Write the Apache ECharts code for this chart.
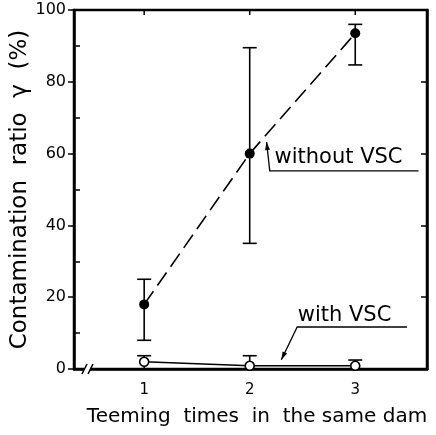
<!DOCTYPE html>
<html>
<head>
<meta charset="utf-8">
<script src="https://cdn.jsdelivr.net/npm/echarts@6/dist/echarts.min.js"></script>
<style>
  html, body { margin: 0; padding: 0; background: #fff; }
  #chart { width: 436px; height: 435px; }
</style>
</head>
<body>
<div id="chart"></div>
<script>
// teeming times (x) and contamination ratio (%)
var teemingTimes = [1, 2, 3];
var withoutVsc = [18, 60, 93.5];
var withoutVscHigh = [25, 89.5, 96];
var withoutVscLow = [8, 35, 84.7];
var withVsc = [2, 0.9, 0.9];
var withVscHigh = [3.7, 3.7, 2.5];
var withVscLow = [0, 0, 0];
var xTicks = [1, 2, 3];
var yMinorTicks = [10, 30, 50, 70, 90];

var font = 'DejaVu Sans';
var ink = '#000';

function pairs(ys) {
  return teemingTimes.map(function (t, i) { return [t, ys[i]]; });
}

// error bars drawn through the axes
function errorBars(high, low) {
  return {
    type: 'custom',
    z: 1,
    data: teemingTimes.map(function (t, i) { return [t, low[i], high[i]]; }),
    encode: { x: 0, y: [1, 2] },
    renderItem: function (params, api) {
      var lo = api.coord([api.value(0), api.value(1)]);
      var hi = api.coord([api.value(0), api.value(2)]);
      var w = 7;
      var st = { stroke: ink, lineWidth: 1.6 };
      return {
        type: 'group',
        children: [
          { type: 'line', shape: { x1: hi[0], y1: hi[1], x2: lo[0], y2: lo[1] }, style: st },
          { type: 'line', shape: { x1: hi[0] - w, y1: hi[1], x2: hi[0] + w, y2: hi[1] }, style: st },
          { type: 'line', shape: { x1: lo[0] - w, y1: lo[1], x2: lo[0] + w, y2: lo[1] }, style: st }
        ]
      };
    }
  };
}

// leader lines of the two labels, in data units
var leaderWithout = [[2.16, 63.2], [2.19, 55.2], [3.6, 55.2]];
var leaderWith = [[2.3, 2.6], [2.45, 11.7], [3.49, 11.7]];

var chart = echarts.init(document.getElementById('chart'));

var plainTick = { color: ink, width: 1.5 };

chart.setOption({
  animation: false,
  backgroundColor: '#fff',
  grid: {
    left: 74, top: 10, right: 9, bottom: 66,
    containLabel: false, outerBoundsMode: 'none',
    show: true, borderColor: ink, borderWidth: 2.5, backgroundColor: 'transparent'
  },
  xAxis: {
    type: 'value',
    position: 'bottom',
    min: 0.335,
    max: 3.68,
    name: 'Teeming  times  in  the same dam',
    nameLocation: 'middle',
    nameGap: 38,
    nameMoveOverlap: false,
    nameTextStyle: { fontFamily: font, fontSize: 20, color: ink, padding: [0, 0, 0, 13] },
    axisLine: { show: true, lineStyle: { color: ink, width: 2.5 } },
    axisTick: { show: false },
    axisLabel: { customValues: xTicks, fontFamily: font, fontSize: 15, color: ink, margin: 14 },
    splitLine: { show: false }
  },
  yAxis: [{
    type: 'value',
    position: 'left',
    min: 0,
    max: 100,
    interval: 20,
    name: 'Contamination  ratio  γ  (%)',
    nameLocation: 'middle',
    nameGap: 42,
    nameMoveOverlap: false,
    nameTextStyle: { fontFamily: font, fontSize: 23, color: ink },
    axisLine: { show: true, lineStyle: { color: ink, width: 2.5 } },
    axisTick: { show: true, length: 6, lineStyle: plainTick },
    axisLabel: { fontFamily: font, fontSize: 16, color: ink, margin: 8 },
    splitLine: { show: false }
  }, {
    type: 'value',
    position: 'left',
    min: 0,
    max: 100,
    axisLine: { show: false },
    axisTick: { show: true, inside: true, customValues: yMinorTicks, length: 6, lineStyle: plainTick },
    axisLabel: { show: false },
    splitLine: { show: false }
  }, {
    type: 'value',
    position: 'right',
    min: 0,
    max: 100,
    interval: 20,
    axisLine: { show: true, lineStyle: { color: ink, width: 2.5 } },
    axisTick: { show: true, inside: true, length: 6, lineStyle: plainTick },
    axisLabel: { show: false },
    splitLine: { show: false }
  }],
  series: [
    errorBars(withoutVscHigh, withoutVscLow),
    errorBars(withVscHigh, withVscLow),
    {
      // short inward ticks on the top frame at 1, 2, 3
      type: 'custom',
      z: 2,
      silent: true,
      data: xTicks.map(function (t) { return [t, 100]; }),
      renderItem: function (params, api) {
        var p = api.coord([api.value(0), api.value(1)]);
        return { type: 'line', shape: { x1: p[0], y1: p[1], x2: p[0], y2: p[1] + 5 }, style: { stroke: ink, lineWidth: 1.5 } };
      }
    },
    {
      name: 'without VSC',
      type: 'line',
      z: 3,
      data: pairs(withoutVsc),
      symbol: 'circle',
      symbolSize: 10,
      itemStyle: { color: ink },
      lineStyle: { color: ink, width: 1.6, type: [16, 7] }
    },
    {
      name: 'with VSC',
      type: 'line',
      z: 3,
      data: pairs(withVsc),
      symbol: 'circle',
      symbolSize: 9,
      itemStyle: { color: '#fff', borderColor: ink, borderWidth: 1.6 },
      lineStyle: { color: ink, width: 1.6 }
    },
    {
      type: 'lines',
      coordinateSystem: 'cartesian2d',
      polyline: true,
      z: 4,
      lineStyle: { color: ink, width: 1.3, opacity: 1 },
      data: [{ coords: leaderWithout }, { coords: leaderWith }]
    }
  ]
});

function px(p) { return chart.convertToPixel({ gridIndex: 0 }, p); }

// small filled arrowhead at the start of a leader
function arrowHead(leader) {
  var tip = px(leader[0]);
  var from = px(leader[1]);
  var dx = tip[0] - from[0], dy = tip[1] - from[1];
  var len = Math.sqrt(dx * dx + dy * dy);
  var ux = dx / len, uy = dy / len;
  var L = 8, W = 2.5;
  var bx = tip[0] - ux * L, by = tip[1] - uy * L;
  return {
    type: 'polygon', z: 11,
    shape: { points: [tip, [bx - uy * W, by + ux * W], [bx + uy * W, by - ux * W]] },
    style: { fill: ink }
  };
}

var pWithout = px([2.235, 59]);
var pWith = px([2.455, 14.8]);
var origin = px([0.335, 0]);

chart.setOption({
  graphic: [
    { type: 'text', x: pWithout[0], y: pWithout[1], z: 10,
      style: { text: 'without VSC', font: '21px "DejaVu Sans"', fill: ink, verticalAlign: 'middle' } },
    { type: 'text', x: pWith[0], y: pWith[1], z: 10,
      style: { text: 'with VSC', font: '21px "DejaVu Sans"', fill: ink, verticalAlign: 'middle' } },
    arrowHead(leaderWithout),
    arrowHead(leaderWith),
    // axis break on the x axis
    { type: 'rect', z: 10, shape: { x: origin[0] + 10, y: origin[1] - 5, width: 6, height: 10 }, style: { fill: '#fff' } },
    { type: 'line', z: 11, shape: { x1: origin[0] + 8, y1: origin[1] + 5, x2: origin[0] + 13, y2: origin[1] - 5 }, style: { stroke: ink, lineWidth: 1.5 } },
    { type: 'line', z: 11, shape: { x1: origin[0] + 14, y1: origin[1] + 5, x2: origin[0] + 19, y2: origin[1] - 5 }, style: { stroke: ink, lineWidth: 1.5 } }
  ]
});
</script>
</body>
</html>
